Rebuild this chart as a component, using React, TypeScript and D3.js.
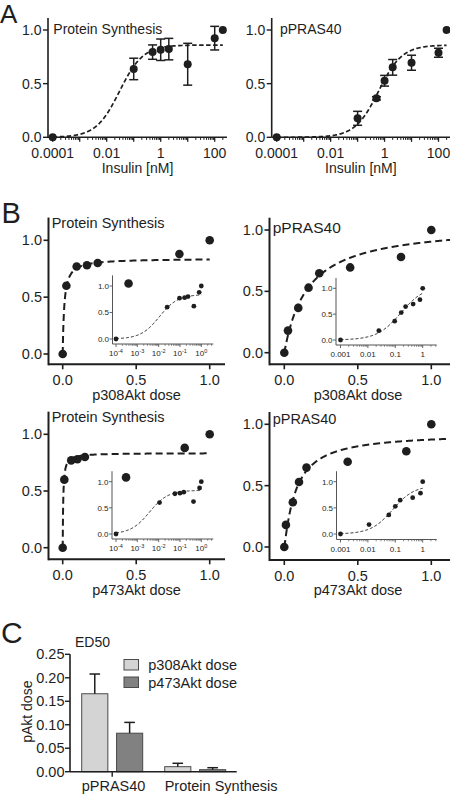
import React from 'react';
import * as d3 from 'd3';

const FONT = "'Liberation Sans', Arial, Helvetica, sans-serif";
const INK = '#1e1e1e';

// ---------- Panel A data (insulin dose response) ----------
const insulinDoses = [0.0001, 0.1, 0.5, 1, 2, 10, 100, 200];
const psInsulinMean = [0, 0.637, 0.794, 0.816, 0.822, 0.681, 0.924, 1.0];
const psInsulinErr = [0, 0.1, 0.067, 0.1, 0.1, 0.195, 0.11, 0];
const prasInsulinMean = [0, 0.177, 0.363, 0.527, 0.652, 0.695, 0.788, 1.0];
const prasInsulinErr = [0, 0.065, 0.015, 0.05, 0.073, 0.07, 0.042, 0];
const insulinMajorTicks = [1e-4, 1e-3, 1e-2, 1e-1, 1, 10, 100];
const insulinLabelTicks = [1e-4, 1e-2, 1, 100];
const insulinLabels = ['0.0001', '0.01', '1', '100'];
const unitTicks = [0, 0.5, 1];
const unitLabels = ['0.0', '0.5', '1.0'];
// fitted curves: [top, ec50, hill]
const psInsulinFit = [0.86, 0.03, 1];
const prasInsulinFit = [0.86, 0.6, 1];

// ---------- Panel B data (pAkt dose response) ----------
const p308Dose = [0, 0.025, 0.095, 0.165, 0.238, 0.448, 0.794, 1.0];
const p473Dose = [0, 0.011, 0.058, 0.1, 0.151, 0.431, 0.83, 1.0];
const psResponse = [0, 0.6, 0.77, 0.78, 0.8, 0.62, 0.88, 1.0];
const prasResponse = [0, 0.18, 0.365, 0.53, 0.647, 0.695, 0.78, 1.0];
const psP308Fit = [0.84, 0.0108, 1];
const psP473Fit = [0.835, 0.0037, 1];
const prasP308Fit = [1.05, 0.16, 1];
const prasP473Fit = [0.93, 0.08, 1.1];
const doseTicks = [0, 0.5, 1];
const doseLabels = ['0.0', '0.5', '1.0'];
const psInsetTicks = [1e-4, 1e-3, 1e-2, 1e-1, 1];
const psInsetExponents = ['-4', '-3', '-2', '-1', '0'];
const prasInsetTicks = [1e-3, 1e-2, 1e-1, 1];
const prasInsetLabels = ['0.001', '0.01', '0.1', '1'];

// ---------- Panel C data (ED50) ----------
const ed50Groups = ['pPRAS40', 'Protein Synthesis'];
const ed50Series = ['p308Akt dose', 'p473Akt dose'];
const ed50P308 = [0.166, 0.0107];
const ed50P308Err = [0.042, 0.0072];
const ed50P473 = [0.082, 0.0043];
const ed50P473Err = [0.023, 0.0042];
const ed50Ticks = [0, 0.05, 0.1, 0.15, 0.2, 0.25];
const ed50TickLabels = ['0.00', '0.05', '0.10', '0.15', '0.20', '0.25'];

const hill = (f: number[]) => (x: number) =>
  (f[0] * Math.pow(x, f[2])) / (Math.pow(f[1], f[2]) + Math.pow(x, f[2]));

function minorTicks(majors: number[], ok: (v: number) => boolean) {
  const out: number[] = [];
  for (const d of majors) for (let k = 2; k <= 9; k++) if (ok(d * k)) out.push(d * k);
  return out;
}

// ---------------- Panel A ----------------
function PanelA({ L, title, mean, err, fit }: any) {
  const x = d3.scaleLog().domain([1e-4, 100]).range(L.xr);
  const y = d3.scaleLinear().domain([0, 1]).range([137.3, 30]);
  const axisY = y(0);
  const minors = minorTicks(insulinMajorTicks, (v) => x(v) <= L.xEnd);
  const f = hill(fit);
  const cx = d3.range(-4, Math.log10(200) + 1e-6, 0.02).map((e) => Math.pow(10, e));
  const line = d3.line<number>().x((v) => x(v)).y((v) => y(f(v)));
  return (
    <g>
      <line x1={L.axisX} x2={L.xEnd} y1={axisY} y2={axisY} stroke={INK} strokeWidth={1.6} />
      <line x1={L.axisX} x2={L.axisX} y1={axisY} y2={18} stroke={INK} strokeWidth={1.6} />
      {unitTicks.map((t, i) => (
        <g key={'y' + i}>
          <line x1={L.axisX - 5} x2={L.axisX} y1={y(t)} y2={y(t)} stroke={INK} strokeWidth={1.4} />
          <text x={L.axisX - 6.5} y={y(t)} dy="0.35em" textAnchor="end" fontSize={14}>{unitLabels[i]}</text>
        </g>
      ))}
      {insulinMajorTicks.map((t, i) => (
        <line key={'M' + i} x1={x(t)} x2={x(t)} y1={axisY} y2={axisY + 4.5} stroke={INK} strokeWidth={1.3} />
      ))}
      {minors.map((t, i) => (
        <line key={'m' + i} x1={x(t)} x2={x(t)} y1={axisY} y2={axisY + 2.6} stroke={INK} strokeWidth={1} />
      ))}
      {insulinLabelTicks.map((t, i) => (
        <text key={'l' + i} x={x(t)} y={157.5} textAnchor="middle" fontSize={14}>{insulinLabels[i]}</text>
      ))}
      <text x={(L.axisX + Math.min(L.xEnd, 450)) / 2} y={173} textAnchor="middle" fontSize={14}>Insulin [nM]</text>
      <text x={L.titleX} y={34} fontSize={14}>{title}</text>
      <path d={line(cx) || ''} fill="none" stroke={INK} strokeWidth={1.7} strokeDasharray="4.5,2.5" />
      {insulinDoses.map((d, i) =>
        err[i] > 0 ? (
          <g key={'e' + i} stroke={INK} strokeWidth={1.5}>
            <line x1={x(d)} x2={x(d)} y1={y(mean[i] - err[i])} y2={y(mean[i] + err[i])} />
            <line x1={x(d) - 4.5} x2={x(d) + 4.5} y1={y(mean[i] - err[i])} y2={y(mean[i] - err[i])} />
            <line x1={x(d) - 4.5} x2={x(d) + 4.5} y1={y(mean[i] + err[i])} y2={y(mean[i] + err[i])} />
          </g>
        ) : null
      )}
      {insulinDoses.map((d, i) => (
        <circle key={'c' + i} cx={x(d)} cy={y(mean[i])} r={4} fill={INK} />
      ))}
    </g>
  );
}

// ---------------- Panel B inset ----------------
function Inset({ I, dose, resp, fit, ps }: any) {
  const lo = ps ? 1e-4 : 1e-3;
  const x = d3.scaleLog().domain([lo, 1]).range(I.xr);
  const y = d3.scaleLinear().domain([0, 1]).range([I.y0, I.y1]);
  const majors = ps ? psInsetTicks : prasInsetTicks;
  const minors = minorTicks(majors, (v) => x(v) <= I.xEnd);
  const f = hill(fit);
  const cx = d3.range(Math.log10(lo), 0.0001, 0.02).map((e) => Math.pow(10, e));
  const line = d3.line<number>().x((v) => x(v)).y((v) => y(f(v)));
  const axisCol = '#555';
  return (
    <g>
      <line x1={I.axisX} x2={I.xEnd} y1={I.xAxisY} y2={I.xAxisY} stroke={axisCol} strokeWidth={1} />
      <line x1={I.axisX} x2={I.axisX} y1={I.xAxisY} y2={y(1.2)} stroke={axisCol} strokeWidth={1} />
      {unitTicks.map((t, i) => (
        <g key={'y' + i}>
          <line x1={I.axisX - 3} x2={I.axisX} y1={y(t)} y2={y(t)} stroke={axisCol} strokeWidth={0.9} />
          <text x={I.axisX - 3.5} y={y(t)} dy="0.35em" textAnchor="end" fontSize={8}>{unitLabels[i]}</text>
        </g>
      ))}
      {majors.map((t, i) => (
        <line key={'M' + i} x1={x(t)} x2={x(t)} y1={I.xAxisY} y2={I.xAxisY + 3} stroke={axisCol} strokeWidth={0.9} />
      ))}
      {minors.map((t, i) => (
        <line key={'m' + i} x1={x(t)} x2={x(t)} y1={I.xAxisY} y2={I.xAxisY + 1.8} stroke={axisCol} strokeWidth={0.7} />
      ))}
      {majors.map((t, i) =>
        ps ? (
          <text key={'l' + i} x={x(t)} y={I.xAxisY + 12} textAnchor="middle" fontSize={8}>
            10<tspan dy={-3} fontSize={5.5}>{psInsetExponents[i]}</tspan>
          </text>
        ) : (
          <text key={'l' + i} x={x(t)} y={I.xAxisY + 12} textAnchor="middle" fontSize={8}>{prasInsetLabels[i]}</text>
        )
      )}
      <path d={line(cx) || ''} fill="none" stroke={INK} strokeWidth={1} strokeDasharray="3,2" />
      {dose.map((d: number, i: number) => (
        <circle key={'c' + i} cx={x(Math.max(d, lo))} cy={y(resp[i])} r={2.4} fill={INK} />
      ))}
    </g>
  );
}

// ---------------- Panel B main ----------------
function PanelB({ L, I, title, xLabel, dose, resp, fit, ps }: any) {
  const x = d3.scaleLinear().domain([0, 1]).range([L.x0, L.x1]);
  const y = d3.scaleLinear().domain([0, 1]).range([L.y0, L.y1]);
  const f = hill(fit);
  const xmax = Math.min(x.invert(L.xEnd), L.curveEnd);
  const cx = d3.range(0, xmax + 1e-6, 0.002);
  const line = d3.line<number>().x((v) => x(v)).y((v) => y(f(v)));
  return (
    <g>
      <line x1={L.axisX} x2={L.xEnd} y1={L.xAxisY} y2={L.xAxisY} stroke={INK} strokeWidth={2} />
      <line x1={L.axisX} x2={L.axisX} y1={L.xAxisY + 1} y2={y(L.yTop)} stroke={INK} strokeWidth={2} />
      {unitTicks.map((t, i) => (
        <g key={'y' + i}>
          <line x1={L.axisX - 5} x2={L.axisX} y1={y(t)} y2={y(t)} stroke={INK} strokeWidth={1.6} />
          <text x={L.axisX - 6.5} y={y(t)} dy="0.35em" textAnchor="end" fontSize={14.5}>{unitLabels[i]}</text>
        </g>
      ))}
      {doseTicks.map((t, i) => (
        <g key={'x' + i}>
          <line x1={x(t)} x2={x(t)} y1={L.xAxisY} y2={L.xAxisY + 5} stroke={INK} strokeWidth={1.6} />
          <text x={x(t)} y={L.xAxisY + 20.7} textAnchor="middle" fontSize={14.5}>{doseLabels[i]}</text>
        </g>
      ))}
      <text x={L.labelX} y={L.xAxisY + 35.2} textAnchor="middle" fontSize={14.5}>{xLabel}</text>
      <text x={L.axisX + 3.2} y={L.titleBase} fontSize={L.titleSize}>{title}</text>
      <Inset I={I} dose={dose} resp={resp} fit={fit} ps={ps} />
      <path d={line(cx) || ''} fill="none" stroke={INK} strokeWidth={2} strokeDasharray="7,4" />
      {dose.map((d: number, i: number) => (
        <circle key={'c' + i} cx={x(d)} cy={y(resp[i])} r={4.3} fill={INK} />
      ))}
    </g>
  );
}

// ---------------- Panel C ----------------
function PanelC() {
  const y = d3.scaleLinear().domain([0, 0.25]).range([771.7, 654.3]);
  const gx = d3.scalePoint<string>().domain(ed50Groups).range([112.2, 195.2]);
  const inner = d3.scaleBand<string>().domain(ed50Series).range([-30.5, 30.5]).paddingInner(0.25);
  const fills = ['#d4d4d4', '#818181'];
  const series = [
    { v: ed50P308, e: ed50P308Err },
    { v: ed50P473, e: ed50P473Err },
  ];
  const axisX = 70;
  return (
    <g>
      <text x={1} y={643} fontSize={30}>C</text>
      <text x={92.5} y={646.5} textAnchor="middle" fontSize={14}>ED50</text>
      <text transform={`translate(32.3,711.7) rotate(-90)`} textAnchor="middle" fontSize={14}>pAkt dose</text>
      {ed50Groups.map((g, gi) =>
        series.map((s, si) => {
          const bx = (gx(g) as number) + (inner(ed50Series[si]) as number);
          const bw = inner.bandwidth();
          const top = y(s.v[gi]);
          const et = y(s.v[gi] + s.e[gi]);
          const c = bx + bw / 2;
          return (
            <g key={g + si}>
              <rect x={bx} y={top} width={bw} height={y(0) - top} fill={fills[si]} stroke="#4a4a4a" strokeWidth={1} />
              <line x1={c} x2={c} y1={top} y2={et} stroke={INK} strokeWidth={1.5} />
              <line x1={c - 5.3} x2={c + 5.3} y1={et} y2={et} stroke={INK} strokeWidth={1.5} />
            </g>
          );
        })
      )}
      <line x1={axisX} x2={236.7} y1={y(0)} y2={y(0)} stroke={INK} strokeWidth={1.6} />
      <line x1={axisX} x2={axisX} y1={y(0)} y2={y(0.25)} stroke={INK} strokeWidth={1.6} />
      {ed50Ticks.map((t, i) => (
        <g key={'t' + i}>
          <line x1={axisX - 5} x2={axisX} y1={y(t)} y2={y(t)} stroke={INK} strokeWidth={1.4} />
          <text x={axisX - 5.5} y={y(t)} dy="0.35em" textAnchor="end" fontSize={14.5}>{ed50TickLabels[i]}</text>
        </g>
      ))}
      <line x1={gx(ed50Groups[0])} x2={gx(ed50Groups[0])} y1={y(0)} y2={y(0) + 5} stroke={INK} strokeWidth={1.4} />
      {ed50Groups.map((g, gi) => (
        <text key={'g' + gi} x={(gx(g) as number) + (inner(ed50Series[0]) as number)} y={790.5} fontSize={14.5}>{g}</text>
      ))}
      {ed50Series.map((s, si) => (
        <g key={'lg' + si}>
          <rect x={124} y={659.5 + si * 17.5} width={14.5} height={10.5} fill={fills[si]} stroke="#4a4a4a" strokeWidth={1} />
          <text x={148.3} y={665 + si * 17.5} dy="0.35em" fontSize={14.5}>{s}</text>
        </g>
      ))}
    </g>
  );
}

const A_LEFT = { axisX: 48, xr: [52.7, 214.7], xEnd: 227, titleX: 53.3 };
const A_RIGHT = { axisX: 271.7, xr: [276.7, 438.5], xEnd: 452, titleX: 280 };

const B_TL = { axisX: 48.5, x0: 62.7, x1: 209.7, xEnd: 225, xAxisY: 364.3, y0: 354, y1: 240.3, yTop: 1.2, titleBase: 228.3, titleSize: 14.5, labelX: 136.5, curveEnd: 1.0 };
const B_TR = { axisX: 269.5, x0: 284.3, x1: 431.3, xEnd: 452, xAxisY: 364.3, y0: 352.7, y1: 230, yTop: 1.1, titleBase: 233, titleSize: 15.5, labelX: 358, curveEnd: 1.2 };
const B_BL = { ...B_TL, xAxisY: 559.3, y0: 547.7, y1: 434.3, titleBase: 421.7, titleSize: 14.5 };
const B_BR = { ...B_TR, xAxisY: 560, y0: 547, y1: 424.3, titleBase: 423.5, titleSize: 14.5 };

const I_TL = { axisX: 112.5, xAxisY: 344, xr: [116, 201.3], xEnd: 213.3, y0: 339, y1: 286 };
const I_TR = { axisX: 336, xAxisY: 345, xr: [340.5, 422.7], xEnd: 436.7, y0: 340, y1: 288.3 };
const I_BL = { axisX: 112, xAxisY: 539, xr: [116, 201.3], xEnd: 213.3, y0: 534, y1: 481.7 };
const I_BR = { axisX: 336.5, xAxisY: 539.5, xr: [340.5, 422.7], xEnd: 436.7, y0: 534, y1: 481.7 };

export default function App() {
  return (
    <svg
      width={450}
      height={795}
      viewBox="0 0 450 795"
      style={{ position: 'absolute', left: 0, top: 0, background: '#fff' }}
      fontFamily={FONT}
      fill={INK}
    >
      <rect x={0} y={0} width={450} height={795} fill="#fff" />
      <text x={0} y={23} fontSize={26}>A</text>
      <PanelA L={A_LEFT} title="Protein Synthesis" mean={psInsulinMean} err={psInsulinErr} fit={psInsulinFit} />
      <PanelA L={A_RIGHT} title="pPRAS40" mean={prasInsulinMean} err={prasInsulinErr} fit={prasInsulinFit} />
      <text x={1.5} y={223.3} fontSize={29}>B</text>
      <PanelB L={B_TL} I={I_TL} title="Protein Synthesis" xLabel="p308Akt dose" dose={p308Dose} resp={psResponse} fit={psP308Fit} ps />
      <PanelB L={B_TR} I={I_TR} title="pPRAS40" xLabel="p308Akt dose" dose={p308Dose} resp={prasResponse} fit={prasP308Fit} ps={false} />
      <PanelB L={B_BL} I={I_BL} title="Protein Synthesis" xLabel="p473Akt dose" dose={p473Dose} resp={psResponse} fit={psP473Fit} ps />
      <PanelB L={B_BR} I={I_BR} title="pPRAS40" xLabel="p473Akt dose" dose={p473Dose} resp={prasResponse} fit={prasP473Fit} ps={false} />
      <PanelC />
    </svg>
  );
}
